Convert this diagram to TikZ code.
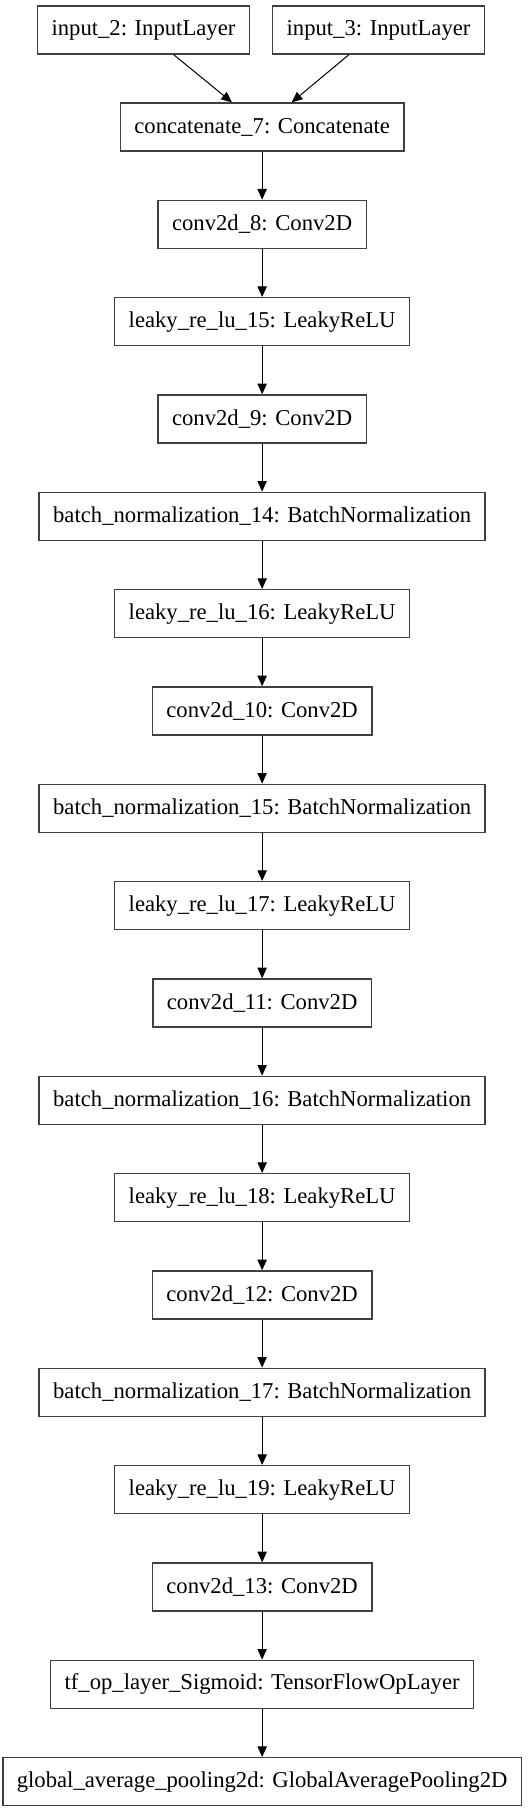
\documentclass[tikz,border=0pt]{standalone}
\usepackage{fontspec}
\setmainfont{Liberation Serif}
\usepackage{xcolor}
\usetikzlibrary{positioning,arrows.meta}
\definecolor{boxline}{RGB}{64,64,64}

\begin{document}
\begin{tikzpicture}[
    x=1pt, y=1pt,
    layer/.style = {draw=boxline, line width=1pt, minimum height=36pt,
                    inner xsep=10.5pt, font=\fontsize{17}{19}\selectfont},
    flow/.style = {-{Triangle[length=8pt,width=7pt]}, line width=0.75pt},
    node distance = 36pt
    ]
    \useasboundingbox (0,0) rectangle (396.75,-1359);

    % inputs
    \node[layer] (in2) at (107.6,-22.5) {input\_2: InputLayer};
    \node[layer] (in3) at (283.9,-22.5) {input\_3: InputLayer};
    \node[layer] (concat) at (196.6,-95.25) {concatenate\_7: Concatenate};

    % main stack
    \node[layer, below=of concat] (conv8) {conv2d\_8: Conv2D};
    \node[layer, below=of conv8] (relu15) {leaky\_re\_lu\_15: LeakyReLU};
    \node[layer, below=of relu15] (conv9) {conv2d\_9: Conv2D};
    \node[layer, below=of conv9] (bn14) {batch\_normalization\_14: BatchNormalization};
    \node[layer, below=of bn14] (relu16) {leaky\_re\_lu\_16: LeakyReLU};
    \node[layer, below=of relu16] (conv10) {conv2d\_10: Conv2D};
    \node[layer, below=of conv10] (bn15) {batch\_normalization\_15: BatchNormalization};
    \node[layer, below=of bn15] (relu17) {leaky\_re\_lu\_17: LeakyReLU};
    \node[layer, below=of relu17] (conv11) {conv2d\_11: Conv2D};
    \node[layer, below=of conv11] (bn16) {batch\_normalization\_16: BatchNormalization};
    \node[layer, below=of bn16] (relu18) {leaky\_re\_lu\_18: LeakyReLU};
    \node[layer, below=of relu18] (conv12) {conv2d\_12: Conv2D};
    \node[layer, below=of conv12] (bn17) {batch\_normalization\_17: BatchNormalization};
    \node[layer, below=of bn17] (relu19) {leaky\_re\_lu\_19: LeakyReLU};
    \node[layer, below=of relu19] (conv13) {conv2d\_13: Conv2D};
    \node[layer, below=of conv13] (sigm) {tf\_op\_layer\_Sigmoid: TensorFlowOpLayer};
    \node[layer, below=of sigm] (gap) {global\_average\_pooling2d: GlobalAveragePooling2D};

    % edges
    \draw[flow] (in2) -- (concat);
    \draw[flow] (in3) -- (concat);
    \foreach \a/\b in {concat/conv8, conv8/relu15, relu15/conv9, conv9/bn14,
                       bn14/relu16, relu16/conv10, conv10/bn15, bn15/relu17,
                       relu17/conv11, conv11/bn16, bn16/relu18, relu18/conv12,
                       conv12/bn17, bn17/relu19, relu19/conv13, conv13/sigm, sigm/gap}
        \draw[flow] (\a) -- (\b);
\end{tikzpicture}
\end{document}
